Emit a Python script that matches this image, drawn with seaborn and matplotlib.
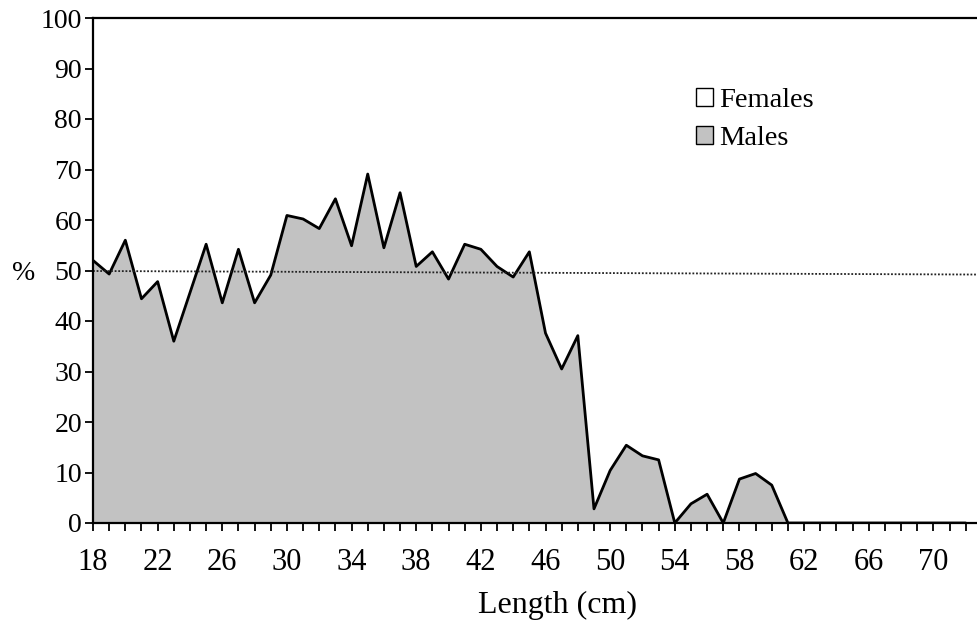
import numpy as np
import pandas as pd
import matplotlib
matplotlib.use("Agg")
import matplotlib.pyplot as plt
import seaborn as sns
from matplotlib.patches import Patch

# ---- data ----
lengths = list(range(18, 73))
males_pct = [52.0, 49.3, 56.0, 44.4, 47.8, 36.0, 45.6, 55.2, 43.6, 54.2,
             43.6, 49.1, 60.9, 60.2, 58.3, 64.2, 54.9, 69.1, 54.5, 65.4,
             50.8, 53.7, 48.3, 55.2, 54.2, 50.8, 48.7, 53.7, 37.6, 30.5,
             37.1, 2.8, 10.4, 15.4, 13.3, 12.5, 0.0, 3.8, 5.7, 0.0,
             8.7, 9.8, 7.5, 0.0, 0.0, 0.0, 0.0, 0.0, 0.0, 0.0,
             0.0, 0.0, 0.0, 0.0, 0.0]
ref_x = [18, 72.7]
ref_y = [49.9, 49.2]
y_ticks = list(range(0, 101, 10))
x_label_ticks = list(range(18, 71, 4))
legend_labels = ["Females", "Males"]

df = pd.DataFrame({"length": lengths, "pct": males_pct})

sns.set_style("white")
plt.rcParams["font.family"] = ["Liberation Serif", "DejaVu Serif"]
plt.rcParams["text.color"] = "black"

fig = plt.figure(figsize=(9.77, 6.23), dpi=100)
ax = fig.add_axes([93 / 977, 100 / 623, 1 - 93 / 977, 505 / 623])

ax.fill_between(df["length"], df["pct"], 0, color="#c2c2c2", linewidth=0)
sns.lineplot(data=df, x="length", y="pct", ax=ax, color="black", linewidth=2.0)
ax.plot(ref_x, ref_y, color="#222222", linestyle=(0, (1, 1)), linewidth=1.3)

ax.set_xlim(18, 72.7)
ax.set_ylim(0, 100)
ax.set_yticks(y_ticks)
ax.set_xticks(lengths, minor=False)
ax.set_xticklabels([str(v) if v in x_label_ticks else "" for v in lengths])
ax.tick_params(axis="x", direction="out", length=6, width=1.3, color="black",
               labelsize=22, pad=12, bottom=True, labelcolor="black")
ax.tick_params(axis="y", direction="out", length=6, width=1.3, color="black",
               labelsize=20, pad=2, left=True, labelcolor="black")

for side in ["left", "bottom", "top"]:
    ax.spines[side].set_visible(True)
    ax.spines[side].set_color("black")
    ax.spines[side].set_linewidth(1.6)
ax.spines["right"].set_visible(False)

ax.set_xlabel("")
ax.set_ylabel("")
fig.text(557 / 977, 1 - 605 / 623, "Length (cm)", ha="center", va="center",
         fontsize=23, color="black")
fig.text(24 / 977, 1 - 273 / 623, "%", ha="center", va="center",
         fontsize=20, color="black")

handles = [Patch(facecolor="white", edgecolor="black", linewidth=1.0),
           Patch(facecolor="#c2c2c2", edgecolor="black", linewidth=1.0)]
leg = ax.legend(handles, legend_labels, loc="upper left",
                bbox_to_anchor=((685 - 93) / 884, 1 - (77 - 18) / 505),
                frameon=False, fontsize=20.5, handlelength=0.6, handleheight=0.6,
                handletextpad=0.2, labelspacing=0.45, borderaxespad=0,
                labelcolor="black")

fig.savefig("out.png", dpi=100)
